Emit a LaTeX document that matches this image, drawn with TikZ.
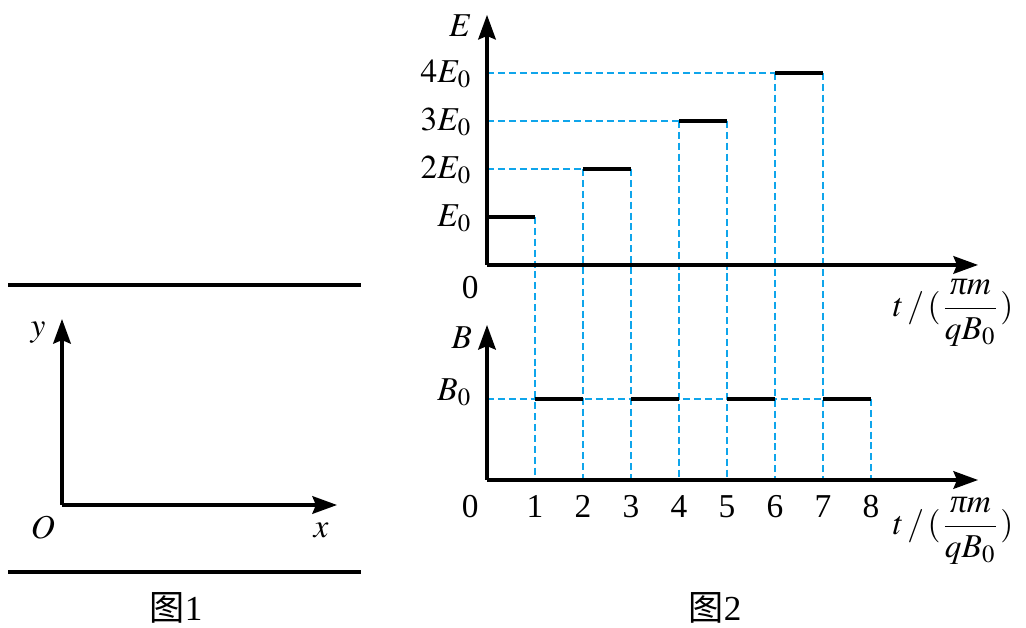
\documentclass[tikz,border=0pt]{standalone}
\usepackage{mathptmx}
\usepackage[no-math]{fontspec}
\setmainfont{Liberation Serif}
\newfontfamily\cjk{Noto Sans CJK SC}
\usetikzlibrary{arrows.meta}
\definecolor{guideblue}{RGB}{15,165,235}
\tikzset{
	axis/.style={line width=0.95pt,-{Stealth[length=7pt,width=5pt,inset=1pt]}},
	level/.style={line width=0.95pt},
	guide/.style={guideblue,line width=0.75pt,dash pattern=on 2pt off 1.1pt},
	lbl/.style={inner sep=0pt,font=\fontsize{9.5}{11}\selectfont},
}
\begin{document}
\begin{tikzpicture}
	\useasboundingbox (0,0) rectangle (10.26,6.27);
	% figure 1
	\coordinate(O) at (0.62,1.22);
	\coordinate(ytip) at (0.62,3.08);
	\coordinate(xtip) at (3.37,1.22);
	\coordinate(top1) at (0.08,3.42);
	\coordinate(top2) at (3.61,3.42);
	\coordinate(bot1) at (0.08,0.55);
	\coordinate(bot2) at (3.61,0.55);
	\draw[level](top1) -- (top2);
	\draw[level](bot1) -- (bot2);
	\draw[axis](O) -- (ytip);
	\draw[axis](O) -- (xtip);
	\node[lbl](ylab) at (0.38,2.94){$y$};
	\node[lbl](Olab) at (0.43,0.99){$O$};
	\node[lbl](xlab) at (3.21,0.97){$x$};
	\node[lbl,font=\fontsize{10}{12}\selectfont](fig1) at (1.76,0.19){{\cjk 图}1};
	\node[lbl,font=\fontsize{10}{12}\selectfont](fig2) at (7.15,0.19){{\cjk 图}2};
	% figure 2
	\begin{scope}[shift={(4.87,1.47)},x=0.48cm,y=0.48cm]
		\def\Ey{4.48}
		\def\Bl{1.69}
		\coordinate(Bo) at (0,0);
		\coordinate(Bx) at (10.23,0);
		\coordinate(By) at (0,3.23);
		\coordinate(Eo) at (0,\Ey);
		\coordinate(Ex) at (10.23,\Ey);
		\coordinate(Ey) at (0,\Ey+5.21);
		% dashed guides
		\draw[guide](0,\Ey+2) -- (2,\Ey+2);
		\draw[guide](0,\Ey+3) -- (4,\Ey+3);
		\draw[guide](0,\Ey+4) -- (6,\Ey+4);
		\draw[guide](0,\Bl) -- (7,\Bl);
		\draw[guide](1,\Ey+1) -- (1,0);
		\draw[guide](2,\Ey+2) -- (2,0);
		\draw[guide](3,\Ey+2) -- (3,0);
		\draw[guide](4,\Ey+3) -- (4,0);
		\draw[guide](5,\Ey+3) -- (5,0);
		\draw[guide](6,\Ey+4) -- (6,0);
		\draw[guide](7,\Ey+4) -- (7,0);
		\draw[guide](8,\Bl) -- (8,0);
		% field values
		\draw[level](0,\Ey+1) -- (1,\Ey+1);
		\draw[level](2,\Ey+2) -- (3,\Ey+2);
		\draw[level](4,\Ey+3) -- (5,\Ey+3);
		\draw[level](6,\Ey+4) -- (7,\Ey+4);
		\draw[level](1,\Bl) -- (2,\Bl);
		\draw[level](3,\Bl) -- (4,\Bl);
		\draw[level](5,\Bl) -- (6,\Bl);
		\draw[level](7,\Bl) -- (8,\Bl);
		\draw[axis](Eo) -- (Ey);
		\draw[axis](Eo) -- (Ex);
		\draw[axis](Bo) -- (By);
		\draw[axis](Bo) -- (Bx);
		% labels
		\node[lbl,anchor=base east](E1) at (-0.3,\Ey+1-0.19){$E_0$};
		\node[lbl,anchor=base east](E2) at (-0.3,\Ey+2-0.19){$2E_0$};
		\node[lbl,anchor=base east](E3) at (-0.3,\Ey+3-0.19){$3E_0$};
		\node[lbl,anchor=base east](E4) at (-0.3,\Ey+4-0.19){$4E_0$};
		\node[lbl,anchor=base east](B0) at (-0.3,\Bl-0.04){$B_0$};
		\node[lbl,anchor=east](Elab) at (-0.3,\Ey+4.98){$E$};
		\node[lbl,anchor=east](Blab) at (-0.3,2.96){$B$};
		\node[lbl,anchor=base](Ezero) at (-0.35,\Ey-0.69){0};
		\node[lbl,anchor=base](Bzero) at (-0.35,-0.79){0};
		\foreach \t in {1,...,8}
			\node[lbl,anchor=base](t\t) at (\t,-0.79){\t};
		\node[lbl](Etlab) at (9.71,3.48){$t\,/\,(\displaystyle\frac{\hbox{\itshape π}m}{qB_0})$};
		\node[lbl](Btlab) at (9.71,-1.06){$t\,/\,(\displaystyle\frac{\hbox{\itshape π}m}{qB_0})$};
	\end{scope}
\end{tikzpicture}
\end{document}
